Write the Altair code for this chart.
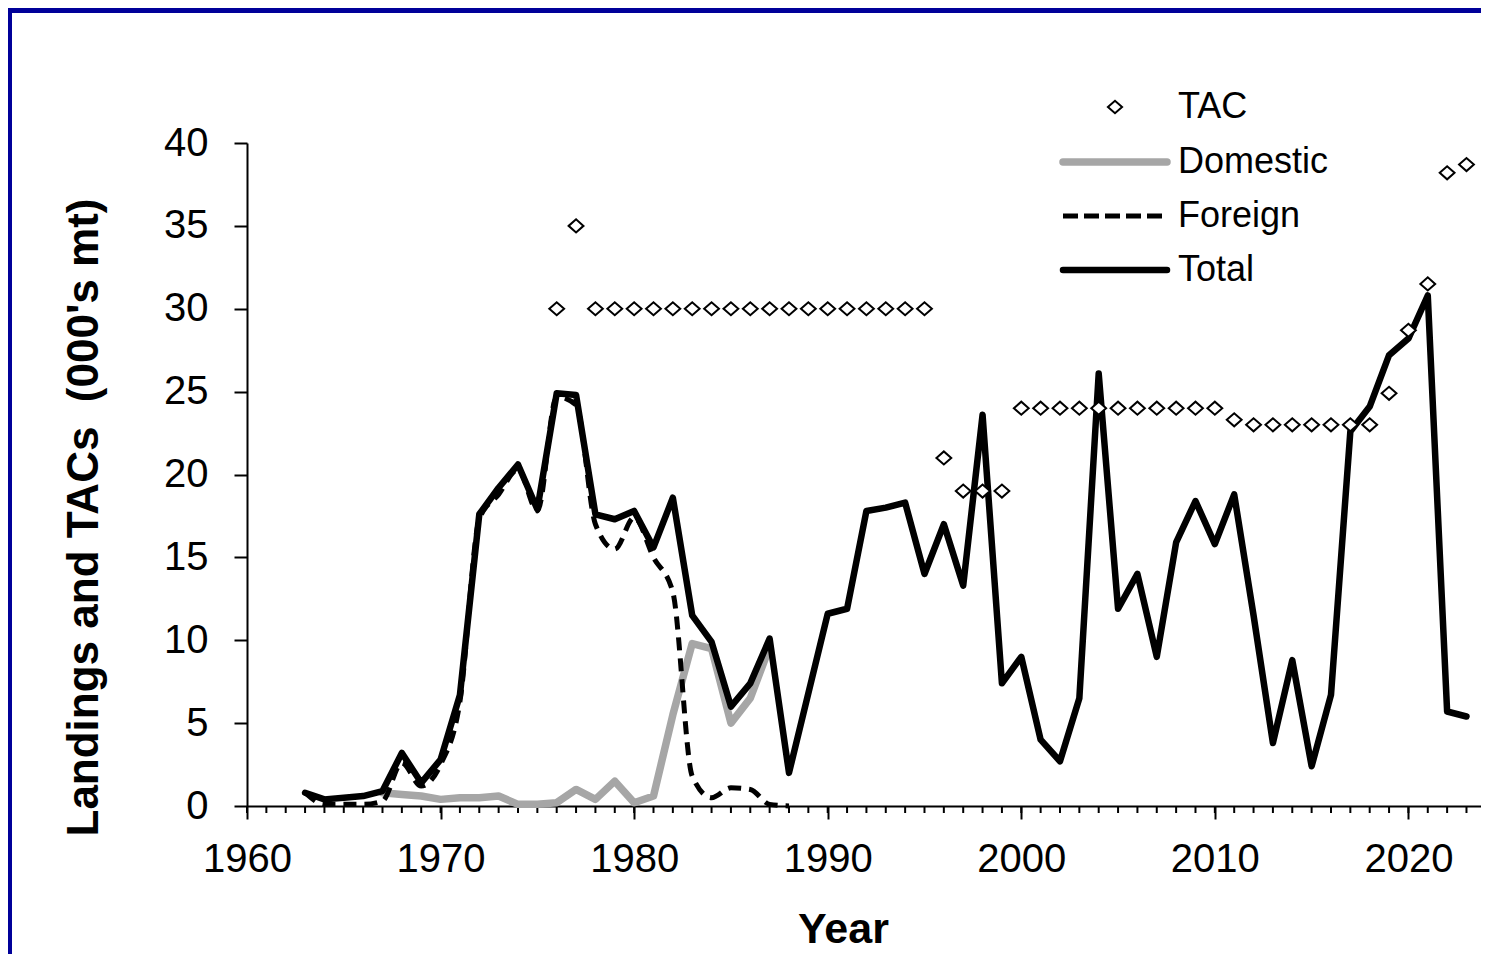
import altair as alt
import pandas as pd

# ---------------- data ----------------
years_total = list(range(1963, 2024))
total = [0.8, 0.4, 0.5, 0.6, 0.9, 3.2, 1.4, 2.8, 6.7, 17.6,
         19.2, 20.6, 17.9, 24.9, 24.8, 17.6, 17.3, 17.8, 15.6, 18.6,
         11.5, 9.9, 6.0, 7.4, 10.1, 2.0, 6.8, 11.6, 11.9, 17.8,
         18.0, 18.3, 14.0, 17.0, 13.3, 23.6, 7.4, 9.0, 4.0, 2.7,
         6.5, 26.1, 11.9, 14.0, 9.0, 15.9, 18.4, 15.8, 18.8, 11.5,
         3.8, 8.8, 2.4, 6.7, 22.6, 24.1, 27.2, 28.2, 30.8, 5.7,
         5.4]

years_domestic = list(range(1967, 1988))
domestic = [0.8, 0.7, 0.6, 0.4, 0.5, 0.5, 0.6, 0.1, 0.1, 0.2,
            1.0, 0.4, 1.5, 0.2, 0.6, 5.5, 9.8, 9.5, 5.0, 6.5,
            9.6]

years_foreign = list(range(1963, 1989))
foreign = [0.8, 0.1, 0.1, 0.1, 0.3, 2.6, 1.2, 2.5, 6.3, 17.3,
           18.8, 20.3, 17.8, 24.7, 24.2, 17.0, 15.5, 17.4, 15.0, 12.9,
           1.8, 0.5, 1.1, 1.0, 0.1, 0.0]

years_tac = list(range(1976, 2024))
tac = [30, 35, 30, 30, 30, 30, 30, 30, 30, 30,
       30, 30, 30, 30, 30, 30, 30, 30, 30, 30,
       21, 19, 19, 19, 24, 24, 24, 24, 24, 24,
       24, 24, 24, 24, 24, 23.3, 23, 23, 23, 23,
       23, 23, 23, 24.9, 28.7, 31.5, 38.2, 38.7]

legend_labels = ["TAC", "Domestic", "Foreign", "Total"]
x_ticks = [1960, 1970, 1980, 1990, 2000, 2010, 2020]
y_ticks = [0, 5, 10, 15, 20, 25, 30, 35, 40]
minor_years = list(range(1960, 2024))

# ---------------- layout ----------------
W, H = 1234, 663
FONT = "Liberation Sans"
DIAMOND = "M -1 0 L 0 -0.88 L 1 0 L 0 0.88 Z"

df_total = pd.DataFrame({"Year": years_total, "Value": total})
df_dom = pd.DataFrame({"Year": years_domestic, "Value": domestic})
df_for = pd.DataFrame({"Year": years_foreign, "Value": foreign})
df_tac = pd.DataFrame({"Year": years_tac, "Value": tac})
df_minor = pd.DataFrame({"Year": minor_years})

xscale = alt.Scale(domain=[1960, 2023.75], nice=False, zero=False)
yscale = alt.Scale(domain=[0, 40], nice=False)

x_axis = alt.Axis(
    values=x_ticks, format="d", grid=False,
    tickSize=13, tickWidth=2, tickColor="#000",
    domainColor="#000", domainWidth=2,
    labelFont=FONT, labelFontSize=40, labelColor="#000", labelPadding=20,
    labelFlush=False, labelOverlap=False,
    title="Year", titleFont=FONT, titleFontSize=43, titleFontWeight="bold",
    titleColor="#000", titleX=596, titleY=136, titleBaseline="alphabetic",
)
y_axis = alt.Axis(
    values=y_ticks, grid=False,
    tickSize=13, tickWidth=2, tickColor="#000",
    domainColor="#000", domainWidth=2,
    labelFont=FONT, labelFontSize=40, labelColor="#000", labelPadding=26,
    labelFlush=False, labelOverlap=False,
    title="Landings and TACs \u00a0(000's mt)", titleFont=FONT, titleFontSize=44,
    titleFontWeight="bold", titleColor="#000", titleX=-150, titleY=374,
    titleBaseline="alphabetic", titleAngle=270,
)

X = alt.X("Year:Q", scale=xscale, axis=x_axis)
Y = alt.Y("Value:Q", scale=yscale, axis=y_axis)

minor = alt.Chart(df_minor).mark_rule(color="#000", strokeWidth=2).encode(
    x=X, y=alt.value(H), y2=alt.value(H + 7)
)

dom_line = alt.Chart(df_dom).mark_line(
    color="#A6A6A6", strokeWidth=7.5, strokeJoin="round", strokeCap="round"
).encode(x=X, y=Y)

for_line = alt.Chart(df_for).mark_line(
    color="#000", strokeWidth=5, strokeDash=[13, 8], interpolate="monotone"
).encode(x=X, y=Y)

tot_line = alt.Chart(df_total).mark_line(
    color="#000", strokeWidth=6.5, strokeJoin="round", strokeCap="round"
).encode(x=X, y=Y)

tac_pts = alt.Chart(df_tac).mark_point(
    shape=DIAMOND, filled=True, fill="white", stroke="#000",
    strokeWidth=2, size=220, opacity=1, fillOpacity=1
).encode(x=X, y=Y)

# ---------------- legend ----------------
leg_y = [-36, 19, 73, 127]
lx0, lx1, ltx = 816, 920, 931
df_leg = pd.DataFrame({"label": legend_labels})

legend_layers = []
legend_layers.append(
    alt.Chart(df_leg.iloc[[0]]).mark_point(
        shape=DIAMOND, filled=True, fill="white", stroke="#000",
        strokeWidth=2, size=200, opacity=1
    ).encode(x=alt.value(868), y=alt.value(leg_y[0]))
)
legend_layers.append(
    alt.Chart(df_leg.iloc[[1]]).mark_rule(
        color="#A6A6A6", strokeWidth=7.5, strokeCap="round"
    ).encode(x=alt.value(lx0), x2=alt.value(lx1), y=alt.value(leg_y[1]))
)
legend_layers.append(
    alt.Chart(df_leg.iloc[[2]]).mark_rule(
        color="#000", strokeWidth=5, strokeDash=[15, 6]
    ).encode(x=alt.value(lx0), x2=alt.value(lx1), y=alt.value(leg_y[2]))
)
legend_layers.append(
    alt.Chart(df_leg.iloc[[3]]).mark_rule(
        color="#000", strokeWidth=6.5, strokeCap="round"
    ).encode(x=alt.value(lx0), x2=alt.value(lx1), y=alt.value(leg_y[3]))
)
for i, lab in enumerate(legend_labels):
    legend_layers.append(
        alt.Chart(df_leg.iloc[[i]]).mark_text(
            align="left", baseline="middle", font=FONT, fontSize=36, color="#000"
        ).encode(text="label:N", x=alt.value(ltx), y=alt.value(leg_y[i]))
    )

# ---------------- slide border ----------------
border_top = alt.Chart(df_leg.iloc[[0]]).mark_rule(
    color="#000099", strokeWidth=5
).encode(x=alt.value(-239), x2=alt.value(W), y=alt.value(-132.5))
border_left = alt.Chart(df_leg.iloc[[0]]).mark_rule(
    color="#000099", strokeWidth=4
).encode(x=alt.value(-237), y=alt.value(-135), y2=alt.value(H + 148))

chart = alt.layer(
    minor, dom_line, for_line, tot_line, tac_pts, *legend_layers,
    border_top, border_left
).properties(
    width=W, height=H,
    autosize=alt.AutoSizeParams(type="none"),
    padding={"left": 239, "top": 135, "right": 0, "bottom": 148},
).configure_view(stroke=None)

chart.save("out.html", embed_options={"renderer": "svg", "actions": False})
